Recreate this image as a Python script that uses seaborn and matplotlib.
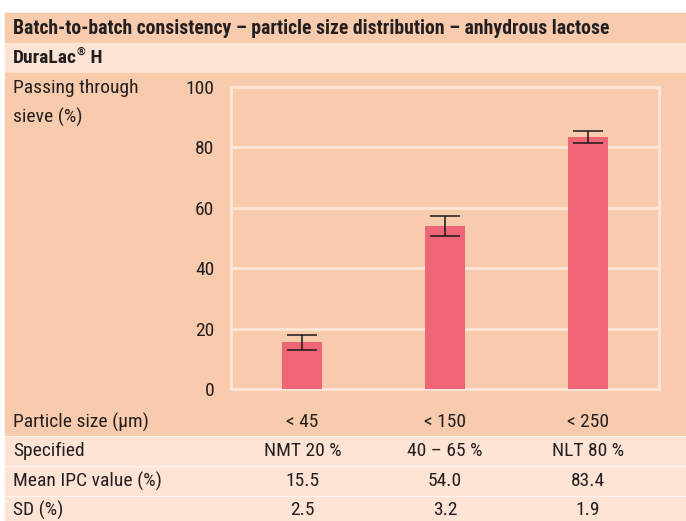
import matplotlib
matplotlib.use("Agg")
import matplotlib.pyplot as plt
import matplotlib.transforms as mtransforms
from matplotlib.patches import Rectangle
import seaborn as sns

# Data
sizes = ["< 45", "< 150", "< 250"]
specified = ["NMT 20 %", "40 – 65 %", "NLT 80 %"]
means = [15.5, 54.0, 83.4]
sds = [2.5, 3.2, 1.9]
y_ticks = [0, 20, 40, 60, 80, 100]

PEACH = "#f9cbad"
LIGHT = "#fde4d4"
BAR = "#ee6676"
TEXT = "#231f20"
LINE = "#fde6d8"
FS = 14

sns.set_theme(style="white")
plt.rcParams["font.family"] = ["Roboto Condensed", "DejaVu Sans"]
plt.rcParams["text.color"] = TEXT

W, H = 686, 521
fig = plt.figure(figsize=(W / 100, H / 100), dpi=100)
fig.patch.set_facecolor("white")


def fy(y):
    return 1 - y / H


def band(y0, y1, color):
    # y in pixels from the top
    fig.patches.append(Rectangle((5 / W, fy(y1)), (W - 5) / W, (y1 - y0) / H,
                                 transform=fig.transFigure, color=color, zorder=-1))


band(13, 42, PEACH)
band(43, 72, LIGHT)
band(73, 435, PEACH)
band(437, 465, LIGHT)
band(467, 495, LIGHT)
band(497, 521, LIGHT)

ax = fig.add_axes([231 / W, fy(389), 428 / W, (389 - 87) / H])
ax.set_facecolor(PEACH)

fig.text(13 / W, fy(28), "Batch-to-batch consistency – particle size distribution – anhydrous lactose",
         fontsize=14.2, fontweight="bold", va="center", ha="left")
t1 = fig.text(13 / W, fy(58), "DuraLac", fontsize=FS, fontweight="bold", va="center", ha="left")
t2 = ax.annotate("®", xy=(1, 0.55), xycoords=t1, fontsize=8, fontweight="bold",
                 va="bottom", ha="left", annotation_clip=False)
ax.annotate(" H", xy=(1, 0.5), xycoords=(t2, t1), fontsize=FS, fontweight="bold",
            va="center", ha="left", annotation_clip=False)
fig.text(13 / W, fy(88), "Passing through", fontsize=FS, va="center", ha="left")
fig.text(13 / W, fy(117), "sieve (%)", fontsize=FS, va="center", ha="left")

sns.barplot(x=sizes, y=means, color=BAR, width=0.28, saturation=1, linewidth=0, ax=ax, zorder=3)
ax.errorbar(range(len(sizes)), means, yerr=sds, fmt="none", ecolor="#1a1a1a",
            elinewidth=1.1, capsize=11, capthick=1.1, zorder=4)

ax.set_xlim(-0.5, 2.5)
ax.set_ylim(0, 100)
ax.set_yticks(y_ticks)
ax.set_yticklabels([str(v) for v in y_ticks])
ax.yaxis.grid(True, color=LINE, lw=2)
ax.set_axisbelow(True)
for s in ax.spines.values():
    s.set_color(LINE)
    s.set_linewidth(2)
ax.tick_params(axis="y", length=0, pad=12, labelsize=FS, labelcolor=TEXT)
ax.tick_params(axis="x", length=0, pad=17, labelsize=FS, labelcolor=TEXT)
ax.set_xlabel("")
ax.set_ylabel("")

# table rows below the chart
fig.text(13 / W, fy(422), "Particle size (µm)", fontsize=FS, va="center", ha="left")
rows = [("Specified", specified, 451),
        ("Mean IPC value (%)", [f"{m:.1f}" for m in means], 481),
        ("SD (%)", [f"{s:.1f}" for s in sds], 510)]
trans = mtransforms.blended_transform_factory(ax.transData, fig.transFigure)
for label, vals, y in rows:
    fig.text(13 / W, fy(y), label, fontsize=FS, va="center", ha="left")
    for i, v in enumerate(vals):
        ax.text(i, fy(y), v, transform=trans, fontsize=FS, va="center", ha="center", clip_on=False)

fig.savefig("out.png", dpi=100)
